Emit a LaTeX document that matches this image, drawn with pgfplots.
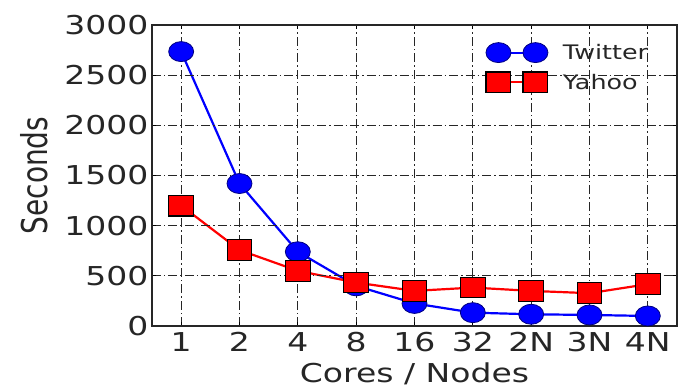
\documentclass[border=0pt]{standalone}
\usepackage{pgfplots}
\pgfplotsset{compat=1.18}
\usepackage{fontspec}
\setmainfont[FakeStretch=1.27]{DejaVu Sans}
\newfontfamily\plainfont{DejaVu Sans}
\usepackage{graphicx}
\begin{document}
\begin{tikzpicture}
\begin{axis}[
  at={(0pt,0pt)}, anchor=south west,
  scale only axis, width=525pt, height=301pt,
  xmin=-0.5, xmax=8.5, ymin=0, ymax=3000,
  xtick={0,1,2,3,4,5,6,7,8},
  xticklabels={1,2,4,8,16,32,2N,3N,4N},
  ytick={0,500,1000,1500,2000,2500,3000},
  /pgf/number format/assume math mode=true,
  /pgf/number format/set thousands separator={},
  ticklabel style={font=\fontsize{26}{30}\selectfont, text=black!85},
  xticklabel style={yshift=-3pt},
  xlabel={Cores / Nodes},
  ylabel={\scalebox{1}[1.27]{\plainfont\fontsize{28}{32}\selectfont Seconds}},
  xlabel style={font=\fontsize{26}{30}\selectfont, text=black!85, yshift=-4pt},
  ylabel style={text=black!85},
  ylabel shift=10pt,
  axis line style={line width=1.3pt, black!85},
  tick style={black, line width=1pt},
  major tick length=4pt,
  tick align=inside,
  grid=major,
  grid style={black!85, line width=1.2pt, dash pattern=on 9pt off 3pt on 1.5pt off 3pt},
  axis on top,
  legend style={draw=none, fill=none, font=\fontsize{20}{24}\selectfont, text=black!85,
     at={(0.63,0.95)}, anchor=north west, row sep=9pt,
     /tikz/every odd column/.append style={column sep=13pt}},
  legend cell align=left,
  legend image code/.code={
     \draw[#1, mark repeat=2, mark phase=1] plot coordinates {(0pt,0pt) (18.5pt,0pt) (37pt,0pt)};
  },
]
\addplot[blue, line width=2.2pt, mark=*, mark size=10pt,
   mark options={xscale=1.25, fill=blue, draw=blue!50!black, line width=0.8pt}]
  coordinates {(0,2735) (1,1420) (2,740) (3,400) (4,225) (5,133) (6,117) (7,110) (8,100)};
\addlegendentry{Twitter}
\addplot[red, line width=2.2pt, mark=square*, mark size=10.3pt,
   mark options={xscale=1.2, fill=red, draw=black, line width=1.2pt}]
  coordinates {(0,1200) (1,757) (2,550) (3,433) (4,350) (5,383) (6,350) (7,327) (8,417)};
\addlegendentry{Yahoo}
\end{axis}
\pgfresetboundingbox
\path[use as bounding box] (-152pt,-63pt) rectangle (528pt,326pt);
\end{tikzpicture}
\end{document}
